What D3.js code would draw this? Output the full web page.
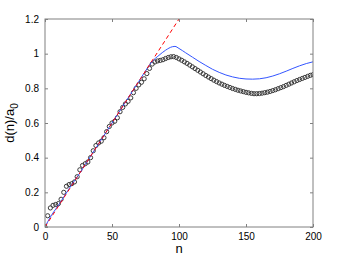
<!DOCTYPE html>
<html>
<head>
<meta charset="utf-8">
<script src="https://cdn.jsdelivr.net/npm/d3@7"></script>
<style>
  body { margin: 0; background: #fff; }
  text { font-family: "Liberation Sans", Arial, sans-serif; }
</style>
</head>
<body>
<div id="chart"></div>
<script>
// Datos
var blackN = d3.range(0, 201, 2);
var blackD = [
  0, 0.065, 0.11, 0.125, 0.13, 0.135, 0.16, 0.2, 0.235, 0.245,
  0.25, 0.26, 0.29, 0.33, 0.355, 0.365, 0.375, 0.4, 0.44, 0.47,
  0.485, 0.495, 0.515, 0.55, 0.58, 0.6, 0.61, 0.63, 0.665, 0.69,
  0.71, 0.725, 0.745, 0.775, 0.8, 0.82, 0.835, 0.855, 0.885, 0.915,
  0.94, 0.952, 0.958, 0.961, 0.965, 0.972, 0.978, 0.982, 0.983, 0.978,
  0.97, 0.962, 0.953, 0.944, 0.934, 0.924, 0.914, 0.904, 0.894, 0.884,
  0.874, 0.865, 0.856, 0.847, 0.839, 0.831, 0.824, 0.817, 0.811, 0.805,
  0.799, 0.794, 0.789, 0.785, 0.781, 0.777, 0.774, 0.771, 0.769, 0.769,
  0.77, 0.772, 0.775, 0.778, 0.782, 0.787, 0.792, 0.798, 0.804, 0.81,
  0.817, 0.824, 0.831, 0.838, 0.845, 0.851, 0.857, 0.863, 0.869, 0.875,
  0.879
];

var blueN = [0, 2, 5, 10, 15, 20, 25, 30, 35, 40, 45, 50, 55, 60, 65, 70, 75, 80, 85, 90, 95, 97,
  100, 105, 110, 115, 120, 125, 130, 135, 140, 145, 150, 155, 160, 165, 170, 175, 180, 185, 190, 195, 200];
var blueD = [0, 0.03, 0.07, 0.125, 0.185, 0.245, 0.3, 0.36, 0.42, 0.48, 0.54, 0.6, 0.66, 0.72, 0.78, 0.84, 0.9, 0.955, 0.99, 1.02, 1.04, 1.042,
  1.03, 1.005, 0.98, 0.955, 0.932, 0.91, 0.892, 0.877, 0.866, 0.858, 0.854, 0.853, 0.855, 0.861, 0.871, 0.884, 0.899, 0.915, 0.93, 0.943, 0.953];

var redN = [0, 100];
var redD = [0, 1.2];

var xTicks = [0, 50, 100, 150, 200];
var yTicks = [0, 0.2, 0.4, 0.6, 0.8, 1, 1.2];

// Dimensiones
var W = 346, H = 256;
var margin = {top: 19, right: 33, bottom: 29, left: 45};
var width = W - margin.left - margin.right;
var height = H - margin.top - margin.bottom;

var svg = d3.select('#chart').append('svg')
  .attr('width', W)
  .attr('height', H);

var chart = svg.append('g')
  .attr('transform', 'translate(' + margin.left + ',' + margin.top + ')');

var x = d3.scaleLinear().domain([0, 200]).range([0, width]);
var y = d3.scaleLinear().domain([0, 1.2]).range([height, 0]);

svg.append('defs').append('clipPath').attr('id', 'clip')
  .append('rect').attr('width', width).attr('height', height);

var plot = chart.append('g').attr('clip-path', 'url(#clip)');

var line = d3.line()
  .x(function(d) { return x(d[0]); })
  .y(function(d) { return y(d[1]); });

// Serie negra (circulos)
plot.selectAll('.dot')
  .data(d3.zip(blackN, blackD))
  .enter()
  .append('circle')
  .classed('dot', true)
  .attr('cx', function(d) { return x(d[0]); })
  .attr('cy', function(d) { return y(d[1]); })
  .attr('r', 2.1)
  .style('fill', 'none')
  .style('stroke', '#3a3a3a')
  .style('stroke-width', 1);

// Serie azul
plot.append('path')
  .datum(d3.zip(blueN, blueD))
  .attr('d', line.curve(d3.curveMonotoneX))
  .style('fill', 'none')
  .style('stroke', '#3355ff')
  .style('stroke-width', 1);

// Recta roja discontinua
plot.append('path')
  .datum(d3.zip(redN, redD))
  .attr('d', d3.line().x(function(d) { return x(d[0]); }).y(function(d) { return y(d[1]); }))
  .style('fill', 'none')
  .style('stroke', '#ff0000')
  .style('stroke-width', 1)
  .style('stroke-dasharray', '4,3');

// Ejes (estilo caja)
var axisColor = '#808080';
var tk = 3;

function styleAxis(g, hideText) {
  g.select('.domain').remove();
  g.selectAll('.tick line').style('stroke', axisColor);
  g.selectAll('.tick text')
    .style('font-size', '10px')
    .style('fill', '#000');
  if (hideText) g.selectAll('.tick text').remove();
}

chart.append('g')
  .attr('transform', 'translate(0,' + height + ')')
  .call(d3.axisBottom(x).tickValues(xTicks).tickSize(-tk).tickPadding(6).tickFormat(d3.format('d')))
  .call(styleAxis, false);

chart.append('g')
  .call(d3.axisTop(x).tickValues(xTicks).tickSize(-tk))
  .call(styleAxis, true);

chart.append('g')
  .call(d3.axisLeft(y).tickValues(yTicks).tickSize(-tk).tickPadding(6).tickFormat(function(d) { return d3.format('~g')(d); }))
  .call(styleAxis, false);

chart.append('g')
  .attr('transform', 'translate(' + width + ',0)')
  .call(d3.axisRight(y).tickValues(yTicks).tickSize(-tk))
  .call(styleAxis, true);

chart.append('rect')
  .attr('width', width)
  .attr('height', height)
  .style('fill', 'none')
  .style('stroke', axisColor)
  .style('stroke-width', 1);

// Etiquetas
chart.append('text')
  .attr('x', width / 2)
  .attr('y', height + 26)
  .style('text-anchor', 'middle')
  .style('font-size', '13px')
  .text('n');

var ylab = chart.append('text')
  .attr('transform', 'translate(' + (-31) + ',' + (height / 2) + ') rotate(-90)')
  .style('text-anchor', 'middle')
  .style('font-size', '13px');
ylab.append('tspan').text('d(n)/a');
ylab.append('tspan').attr('dy', 4).style('font-size', '10px').text('0');
</script>
</body>
</html>
